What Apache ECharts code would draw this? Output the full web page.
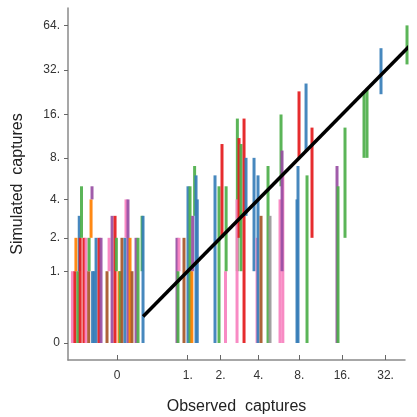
<!DOCTYPE html>
<html><head><meta charset="utf-8">
<script src="https://cdn.jsdelivr.net/npm/echarts@6/dist/echarts.min.js"></script>
<style>html,body{margin:0;padding:0;background:#fff}#c{width:417px;height:417px}</style>
</head><body><div id="c"></div>
<script>
// tick values (original scale)
const xTicks = [0, 1, 2, 4, 8, 16, 32];
const yTicks = [0, 1, 2, 4, 8, 16, 32, 64];
// segments: jittered observed value, simulated low, simulated high, colour index
const segObs = [-0.250,-0.240,-0.236,-0.228,-0.222,-0.218,-0.212,-0.201,-0.191,-0.178,-0.176,-0.166,-0.161,-0.158,-0.150,-0.139,-0.122,-0.110,-0.072,-0.058,-0.037,-0.015,-0.005,0.016,0.026,0.040,0.066,0.075,0.093,0.112,0.131,0.172,0.193,0.238,0.249,
  0.770,0.790,0.810,0.916,1.007,1.055,1.100,1.120,1.170,1.207,1.240,
  1.793,1.940,2.056,2.200,2.225,2.745,2.729,2.830,2.934,3.100,3.212,
  3.705,3.905,3.973,4.188,4.727,4.890,5.798,5.896,6.080,5.998,
  7.700,7.828,7.961,8.937,9.082,9.853,14.77,15.01,16.79,22.73,23.84,29.75,44.82];
const segLo = [0,0,1,0,1,0,2,0,0,0,1,2,4,0,0,0,0,0,0,1,0,0,1,0,0,0,0,2,0,0,0,0,0,1,0,
  0,0,1,0,0,0,0,1,3,0,0,
  0,0,2,0,1,1,0,2,1,0,3,
  1,0,0,0,0,0,0,5,0,1,
  0,0,8,9,0,2,0,0,2,8,8,22,35];
const segHi = [1,1,2,1,3,2,5,2,2,1,2,4,5,1,1,2,2,2,1,2,3,3,2,1,1,2,2,4,4,2,1,2,2,3,3,
  2,1,2,2,5,5,1,3,7,6,4,
  6,5,10,1,5,15,4,11,10,15,8,
  8,2,6,3,7,3,4,16,6,9,
  4,7,23,26,6,13,7,5,13,23,24,45,64];
const segCol = [6,0,4,2,1,0,2,0,6,5,2,4,3,1,1,1,0,3,5,6,3,0,2,4,2,5,1,6,3,4,5,3,2,2,1,
  3,2,6,5,1,2,4,3,2,1,1,
  1,2,0,6,2,2,6,0,2,0,1,
  1,6,1,5,2,7,6,2,6,3,
  1,1,0,1,2,0,3,2,2,2,2,1,2];
const palette = ['#E41A1C','#377EB8','#4DAF4A','#984EA3','#FF7F00','#A65628','#F781BF','#999999'];
const refLine = [0.25, 48];

function tf(v) { return Math.log2(v + 0.5); }
function lab(v) { const n = Math.round(Math.pow(2, v) - 0.5); return n === 0 ? '0' : n + '.'; }

const segData = segObs.map((x, i) => [tf(x), tf(segLo[i]), tf(segHi[i]), segCol[i]]);

const chart = echarts.init(document.getElementById('c'), null, {renderer: 'canvas'});
const FONT = 'Liberation Sans, Arial, sans-serif';
const axisCommon = {
  type: 'value',
  splitLine: {show: false},
  axisLine: {show: true, onZero: false, lineStyle: {color: '#8a8a8a', width: 1.5}},
  nameLocation: 'middle',
  nameTextStyle: {fontFamily: FONT, fontSize: 16, color: '#222'}
};
chart.setOption({
  animation: false,
  grid: {left: 68, right: 12, top: 8, bottom: 57, containLabel: false, outerBoundsMode: 'none'},
  xAxis: Object.assign({}, axisCommon, {
    min: -2.099, max: 5.457,
    name: 'Observed  captures', nameGap: 39,
    axisTick: {show: true, inside: true, length: 5, customValues: xTicks.map(tf), lineStyle: {color: '#666'}},
    axisLabel: {customValues: xTicks.map(tf), formatter: lab, margin: 10, fontSize: 12, color: '#333', fontFamily: FONT}
  }),
  yAxis: Object.assign({}, axisCommon, {
    min: -1.375, max: 6.395,
    name: 'Simulated  captures', nameGap: 42,
    axisTick: {show: true, inside: false, length: 4, customValues: yTicks.map(tf), lineStyle: {color: '#666'}},
    axisLabel: {customValues: yTicks.map(tf), formatter: lab, margin: 8, fontSize: 12, color: '#333', fontFamily: FONT}
  }),
  series: [
    {
      type: 'custom', z: 2,
      data: segData,
      renderItem: function (params, api) {
        const p1 = api.coord([api.value(0), api.value(1)]);
        const p2 = api.coord([api.value(0), api.value(2)]);
        return {type: 'line', shape: {x1: p1[0], y1: p1[1], x2: p2[0], y2: p2[1]},
          style: {stroke: palette[api.value(3)], lineWidth: 3, opacity: 0.92}};
      }
    },
    {
      type: 'line', z: 3, symbol: 'none',
      data: refLine.map(v => [tf(v), tf(v)]),
      lineStyle: {color: '#000', width: 3.5}
    }
  ]
});
</script></body></html>
